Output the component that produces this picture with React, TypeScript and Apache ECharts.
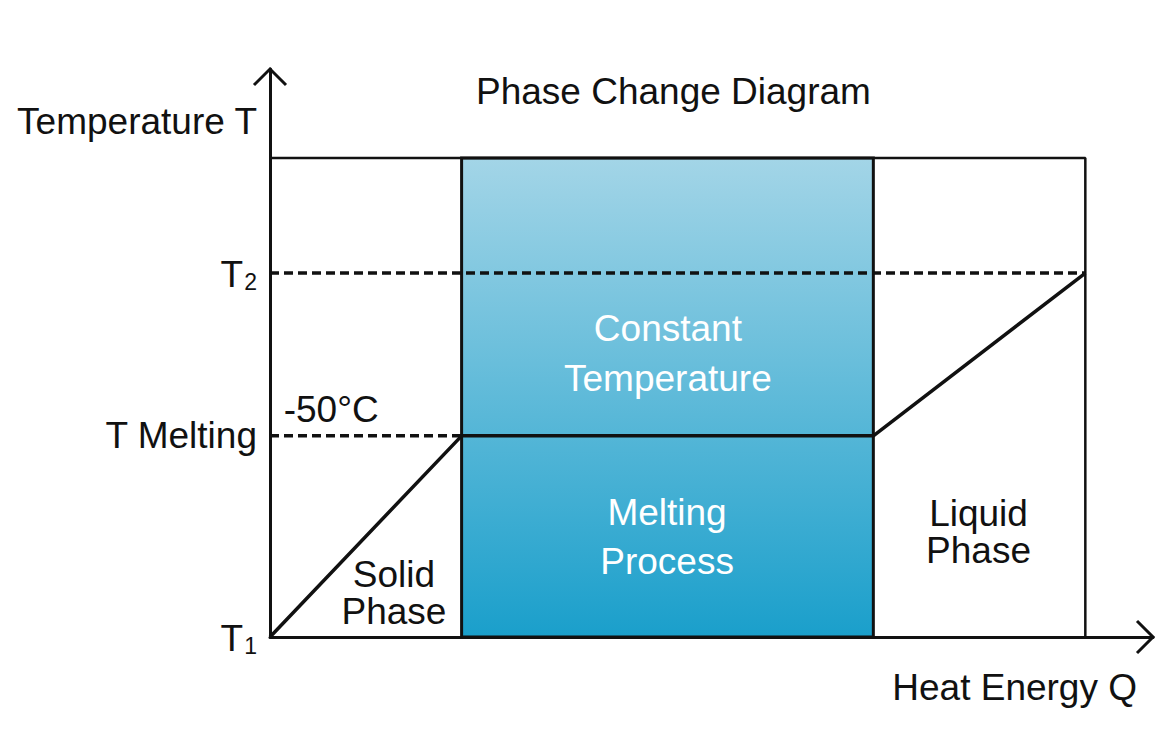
import React, { useEffect, useRef } from 'react';
import * as echarts from 'echarts';

const FONT = '"Liberation Sans", Arial, Helvetica, sans-serif';
const INK = '#111111';

// Heating curve: heat energy Q (x) vs temperature T (y), arbitrary units
const phaseQ = [0, 23.5, 74, 100];
const phaseT = [0, 42, 42, 76];
const boxTop = 100;
const boxRight = 100;
const xMax = 108.3;
const yMax = 118.6;
const tMelting = 42;
const t2 = 76;
const meltingBand = [23.5, 74];

const yTickValues = [0, 42, 76];
const yTickLabels = ['{t|T}{s|1}', '{m|T Melting}', '{t|T}{s|2}'];

const regionNames = ['Solid\nPhase', 'Constant\nTemperature', 'Melting\nProcess', 'Liquid\nPhase', '-50°C'];
const regionQ = [15.2, 48.8, 48.7, 86.9, 7.5];
const regionT = [9.2, 59.3, 20.8, 22.0, 47.4];
const regionColors = [INK, '#ffffff', '#ffffff', INK, INK];
const regionLineHeights = [37, 50, 49, 37, 37];

export default function App() {
  const ref = useRef<HTMLDivElement>(null);
  useEffect(() => {
    if (!ref.current) return;
    const chart = echarts.init(ref.current, null, { renderer: 'svg' });
    const lineBase = { type: 'line', symbol: 'none', silent: true, animation: false };
    const option: any = {
      animation: false,
      backgroundColor: '#ffffff',
      textStyle: { fontFamily: FONT },
      title: {
        text: 'Phase Change Diagram',
        left: 476,
        top: 73,
        padding: 0,
        textStyle: { fontFamily: FONT, fontSize: 37, fontWeight: 'normal', color: INK },
      },
      grid: { left: 270, right: 11, top: 69, bottom: 114, containLabel: false },
      xAxis: {
        type: 'value',
        min: 0,
        max: xMax,
        name: 'Heat Energy Q',
        nameLocation: 'end',
        nameGap: 0,
        nameTextStyle: {
          fontFamily: FONT, fontSize: 37, color: INK, align: 'right', verticalAlign: 'top',
          padding: [32, 16, 0, 0],
        },
        axisLine: { show: true, lineStyle: { color: INK, width: 3 } },
        axisTick: { show: false },
        axisLabel: { show: false },
        splitLine: { show: false },
      },
      yAxis: {
        type: 'value',
        min: 0,
        max: yMax,
        name: 'Temperature T',
        nameLocation: 'end',
        nameGap: -52,
        nameTextStyle: {
          fontFamily: FONT, fontSize: 37, color: INK, align: 'right', verticalAlign: 'middle',
          padding: [0, 13, 0, 0],
        },
        axisLine: { show: true, lineStyle: { color: INK, width: 3 } },
        axisTick: { show: false },
        splitLine: { show: false },
        axisLabel: {
          show: true,
          customValues: yTickValues,
          margin: 13,
          formatter: (v: number) => {
            const i = yTickValues.indexOf(v);
            return i >= 0 ? yTickLabels[i] : '';
          },
          rich: {
            t: { fontFamily: FONT, fontSize: 37, color: INK, lineHeight: 40, verticalAlign: 'bottom' },
            s: { fontFamily: FONT, fontSize: 23, color: INK, lineHeight: 40, verticalAlign: 'bottom', padding: [0, 0, 0, 1] },
            m: { fontFamily: FONT, fontSize: 37, color: INK, lineHeight: 40 },
          },
        },
      },
      series: [
        {
          ...lineBase,
          name: 'box',
          data: [[0, boxTop], [boxRight, boxTop], [boxRight, 0]],
          lineStyle: { color: INK, width: 2.5 },
          z: 3,
          markArea: {
            silent: true,
            itemStyle: {
              color: new echarts.graphic.LinearGradient(0, 0, 0, 1, [
                { offset: 0, color: '#a3d5e7' },
                { offset: 1, color: '#1a9fcb' },
              ]),
              borderColor: INK,
              borderWidth: 3,
            },
            data: [[{ coord: [meltingBand[0], 0] }, { coord: [meltingBand[1], boxTop] }]],
          },
        },
        {
          ...lineBase,
          name: 'T2 level',
          data: [[0, t2], [boxRight, t2]],
          lineStyle: { color: INK, width: 3.5, type: [9, 5] },
          z: 4,
        },
        {
          ...lineBase,
          name: 'Melting level',
          data: [[0, tMelting], [meltingBand[0], tMelting]],
          lineStyle: { color: INK, width: 3.5, type: [9, 5] },
          z: 4,
        },
        {
          ...lineBase,
          name: 'Heating curve',
          data: phaseQ.map((q, i) => [q, phaseT[i]]),
          lineStyle: { color: INK, width: 3.5 },
          z: 5,
        },
        {
          type: 'scatter',
          name: 'labels',
          silent: true,
          symbolSize: 0,
          z: 6,
          itemStyle: { opacity: 1 },
          data: regionNames.map((n, i) => ({
            name: n,
            value: [regionQ[i], regionT[i]],
            label: { color: regionColors[i], lineHeight: regionLineHeights[i] },
          })),
          label: {
            show: true,
            position: 'inside',
            formatter: (p: any) => p.name,
            fontFamily: FONT,
            fontSize: 37,
            opacity: 1,
            align: 'center',
            verticalAlign: 'middle',
          },
        },
      ],
    };
    chart.setOption(option);

    const tipY = chart.convertToPixel({ gridIndex: 0 }, [0, yMax]) as number[];
    const tipX = chart.convertToPixel({ gridIndex: 0 }, [xMax, 0]) as number[];
    const a = 16;
    chart.setOption({
      graphic: [
        {
          type: 'polyline',
          silent: true,
          shape: { points: [[tipY[0] - a, tipY[1] + a], [tipY[0], tipY[1]], [tipY[0] + a, tipY[1] + a]] },
          style: { stroke: INK, lineWidth: 3, fill: null },
          z: 10,
        },
        {
          type: 'polyline',
          silent: true,
          shape: { points: [[tipX[0] - a, tipX[1] - a], [tipX[0], tipX[1]], [tipX[0] - a, tipX[1] + a]] },
          style: { stroke: INK, lineWidth: 3, fill: null },
          z: 10,
        },
      ],
    });
    return () => chart.dispose();
  }, []);
  return <div ref={ref} style={{ position: 'absolute', left: 0, top: 0, width: 1164, height: 751 }} />;
}
